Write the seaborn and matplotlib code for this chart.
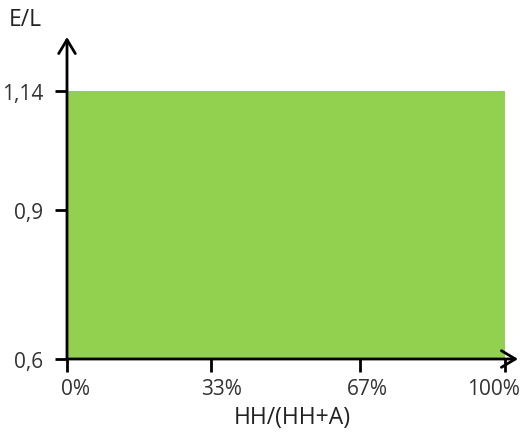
import matplotlib
matplotlib.use("Agg")
import matplotlib.pyplot as plt
import matplotlib.transforms as mtransforms
import seaborn as sns
import pandas as pd

# data
x_start = [0]
x_end = [100]
el_value = [1.14]
y_ticks = [0.6, 0.9, 1.14]
y_tick_labels = ["0,6", "0,9", "1,14"]
x_ticks = [0, 33, 67, 100]
x_tick_labels = ["0%", "33%", "67%", "100%"]

sns.set_theme(style="white")
plt.rcParams["font.family"] = ["Open Sans", "DejaVu Sans"]

fig = plt.figure(figsize=(5.27, 4.35), dpi=100)
ax = fig.add_axes([67 / 527, 75 / 435, (518 - 67) / 527, (360 - 38) / 435])

df = pd.DataFrame({"x": [(a + b) / 2 for a, b in zip(x_start, x_end)], "w": el_value})
sns.histplot(data=df, x="x", weights="w", bins=[x_start[0], x_end[0]],
             color="#92D050", alpha=1, edgecolor="none", linewidth=0, ax=ax, zorder=1)

ax.set_xlim(0, 103)
ax.set_ylim(0.6, 1.25)
for s in ax.spines.values():
    s.set_visible(False)

# axes with arrows
for xy, xytext in [((0, 1.25), (0, 0.6)), ((103, 0.6), (0, 0.6))]:
    ax.annotate("", xy=xy, xytext=xytext, xycoords="data",
                arrowprops=dict(arrowstyle="->,head_length=0.5,head_width=0.3",
                                lw=2, color="black", shrinkA=0, shrinkB=0,
                                mutation_scale=20),
                annotation_clip=False, zorder=5)

ax.set_yticks(y_ticks)
ax.set_yticklabels(y_tick_labels)
ax.set_xticks(x_ticks)
ax.set_xticklabels(x_tick_labels)
ax.tick_params(axis="both", which="major", direction="out", length=9, width=2,
               color="black", labelsize=15, labelcolor="#333333",
               left=True, bottom=True)
ax.tick_params(axis="y", pad=8)
ax.tick_params(axis="x", pad=5)

# small horizontal nudges of x tick labels as in the reference
dx_px = [8, 10, 7, -11]
for lab, dx in zip(ax.get_xticklabels(), dx_px):
    lab.set_transform(lab.get_transform() +
                      mtransforms.ScaledTranslation(dx / 100, 0, fig.dpi_scale_trans))

ax.set_xlabel("HH/(HH+A)", fontsize=16.5, color="#222222", labelpad=4)
ax.set_ylabel("")
fig.text(9 / 527, 1 - 20 / 435, "E/L", fontsize=16.5, color="#222222",
         ha="left", va="center")

fig.savefig("out.png", dpi=100)
